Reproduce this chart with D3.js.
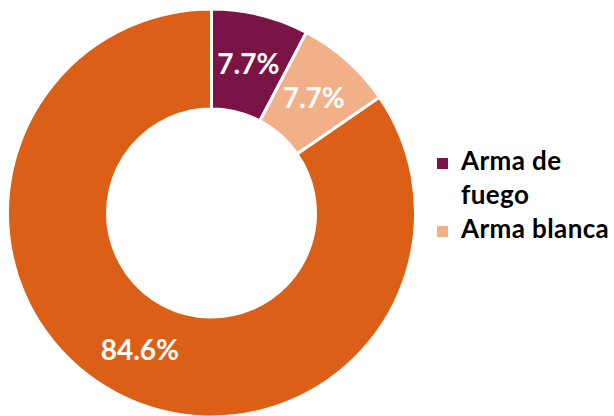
<!DOCTYPE html>
<html>
<head>
<meta charset="utf-8">
<script src="https://cdn.jsdelivr.net/npm/d3@7"></script>
<style>
  html, body { margin: 0; padding: 0; background: #ffffff; }
  svg { display: block; }
</style>
</head>
<body>
<svg id="chart" width="614" height="416"></svg>
<script>
const categories = ["Arma de fuego", "Arma blanca", "Otro"];
const values = [7.7, 7.7, 84.6];
const labels = ["7.7%", "7.7%", "84.6%"];
const colors = ["#7B1446", "#F2B089", "#DB5F16"];
const legendLines = [["Arma de", "fuego"], ["Arma blanca"]];

const svg = d3.select("#chart");
const cx = 211.5, cy = 213, outerR = 204, innerR = 104;

const data = categories.map((c, i) => ({ category: c, value: values[i], label: labels[i], color: colors[i] }));
const pie = d3.pie().sort(null).value(d => d.value);
const arc = d3.arc().innerRadius(innerR).outerRadius(outerR);

const g = svg.append("g").attr("transform", `translate(${cx},${cy})`);
const arcs = pie(data);

g.selectAll("path").data(arcs).join("path")
  .attr("d", arc)
  .attr("fill", d => d.data.color)
  .attr("stroke", "#ffffff")
  .attr("stroke-width", 3)
  .attr("stroke-linejoin", "miter");

g.selectAll("text").data(arcs).join("text")
  .attr("transform", d => `translate(${arc.centroid(d)})`)
  .attr("text-anchor", "middle")
  .attr("dy", "0.38em")
  .attr("fill", "#ffffff")
  .attr("font-family", "Lato, 'Open Sans', sans-serif")
  .attr("font-weight", "bold")
  .attr("font-size", 28)
  .text(d => d.data.label);

// Legend
const legend = svg.append("g");
const lx = 437, textX = 461, lineH = 34;
let y = 170;
legendLines.forEach((lines, i) => {
  legend.append("rect")
    .attr("x", lx).attr("y", y - 12)
    .attr("width", 11).attr("height", 11)
    .attr("fill", colors[i]);
  const t = legend.append("text")
    .attr("x", textX).attr("y", y)
    .attr("font-family", "Lato, 'Open Sans', sans-serif")
    .attr("font-weight", "bold")
    .attr("font-size", 26)
    .attr("letter-spacing", 0.4)
    .attr("fill", "#000000");
  lines.forEach((ln, j) => {
    t.append("tspan").attr("x", textX).attr("y", y + j * lineH).text(ln);
  });
  y += lines.length * lineH;
});
</script>
</body>
</html>
